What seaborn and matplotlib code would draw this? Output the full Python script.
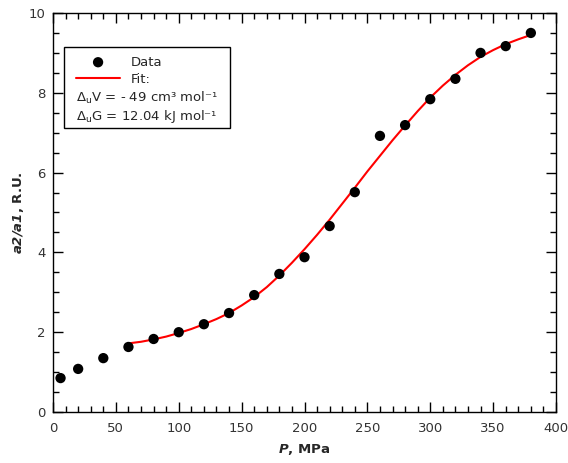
import matplotlib
matplotlib.use("Agg")
import matplotlib.pyplot as plt
import seaborn as sns
import pandas as pd
from matplotlib.patches import Rectangle
from matplotlib.ticker import MultipleLocator

# Data points
p_data = [6, 20, 40, 60, 80, 100, 120, 140, 160, 180, 200, 220, 240, 260, 280, 300, 320, 340, 360, 380]
r_data = [0.85, 1.08, 1.35, 1.63, 1.83, 2.0, 2.2, 2.48, 2.93, 3.46, 3.88, 4.66, 5.51, 6.92, 7.19, 7.84, 8.35, 9.0, 9.17, 9.5]

# Fit curve
p_fit = [60, 70, 80, 90, 100, 110, 120, 130, 140, 150, 160, 170, 180, 190, 200, 210, 220,
         230, 240, 250, 260, 270, 280, 290, 300, 310, 320, 330, 340, 350, 360, 370, 380]
r_fit = [1.72, 1.76, 1.82, 1.89, 1.98, 2.08, 2.2, 2.33, 2.48, 2.67, 2.88, 3.13, 3.42, 3.74, 4.08, 4.44, 4.82,
         5.22, 5.62, 6.03, 6.42, 6.81, 7.18, 7.54, 7.88, 8.18, 8.45, 8.69, 8.9, 9.07, 9.22, 9.34, 9.45]

sns.set_theme(style="ticks")
plt.rcParams['font.family'] = ['DejaVu Sans']
plt.rcParams['mathtext.default'] = 'regular'

fig = plt.figure(figsize=(5.68, 4.63), dpi=100)
ax = fig.add_axes([53/568, 51/463, 503/568, 399/463])

df_d = pd.DataFrame({"P": p_data, "R": r_data})
df_f = pd.DataFrame({"P": p_fit, "R": r_fit})

sns.lineplot(data=df_f, x="P", y="R", ax=ax, color="#ff0000", linewidth=1.5, label="Fit:", zorder=2)
sns.scatterplot(data=df_d, x="P", y="R", ax=ax, color="black", s=55, edgecolor="none", label="Data", zorder=3)

ax.set_xlim(0, 400)
ax.set_ylim(0, 10)
ax.xaxis.set_major_locator(MultipleLocator(50))
ax.xaxis.set_minor_locator(MultipleLocator(10))
ax.yaxis.set_major_locator(MultipleLocator(2))
ax.yaxis.set_minor_locator(MultipleLocator(0.5))
ax.tick_params(which='both', direction='in', top=True, right=True, colors='black', labelcolor='#333333', labelsize=9.5, width=1)
ax.tick_params(which='major', length=7)
ax.tick_params(which='minor', length=4)
ax.tick_params(axis='x', which='both', pad=7.5)
ax.tick_params(axis='y', which='both', pad=5.5)
for s in ax.spines.values():
    s.set_linewidth(1)
    s.set_color('black')

ax.set_xlabel(r'$\mathbfit{P}$, MPa', fontsize=9.5, fontweight='bold', labelpad=5)
ax.set_ylabel(r'$\mathbfit{a2/a1}$, R.U.', fontsize=9.5, fontweight='bold', labelpad=1.5)

handles, labels = ax.get_legend_handles_labels()
order = [labels.index("Data"), labels.index("Fit:")]
leg = ax.legend([handles[i] for i in order], [labels[i] for i in order],
                loc='upper left', bbox_to_anchor=(0.045, 0.893), frameon=False,
                fontsize=9.5, handlelength=3.4, handletextpad=0.75, borderpad=0, borderaxespad=0,
                labelspacing=0.3)

ax.add_patch(Rectangle((0.0219, 0.712), 0.33, 0.203, transform=ax.transAxes,
                       fill=False, edgecolor='black', linewidth=1, zorder=5))
ax.text(0.0457, 0.786, '\u0394$_u$V = - 49 cm\u00b3 mol\u207b\u00b9', transform=ax.transAxes,
        fontsize=9.5, va='center', ha='left')
ax.text(0.0457, 0.741, '\u0394$_u$G = 12.04 kJ mol\u207b\u00b9', transform=ax.transAxes,
        fontsize=9.5, va='center', ha='left')

fig.savefig("out.png", dpi=100)
